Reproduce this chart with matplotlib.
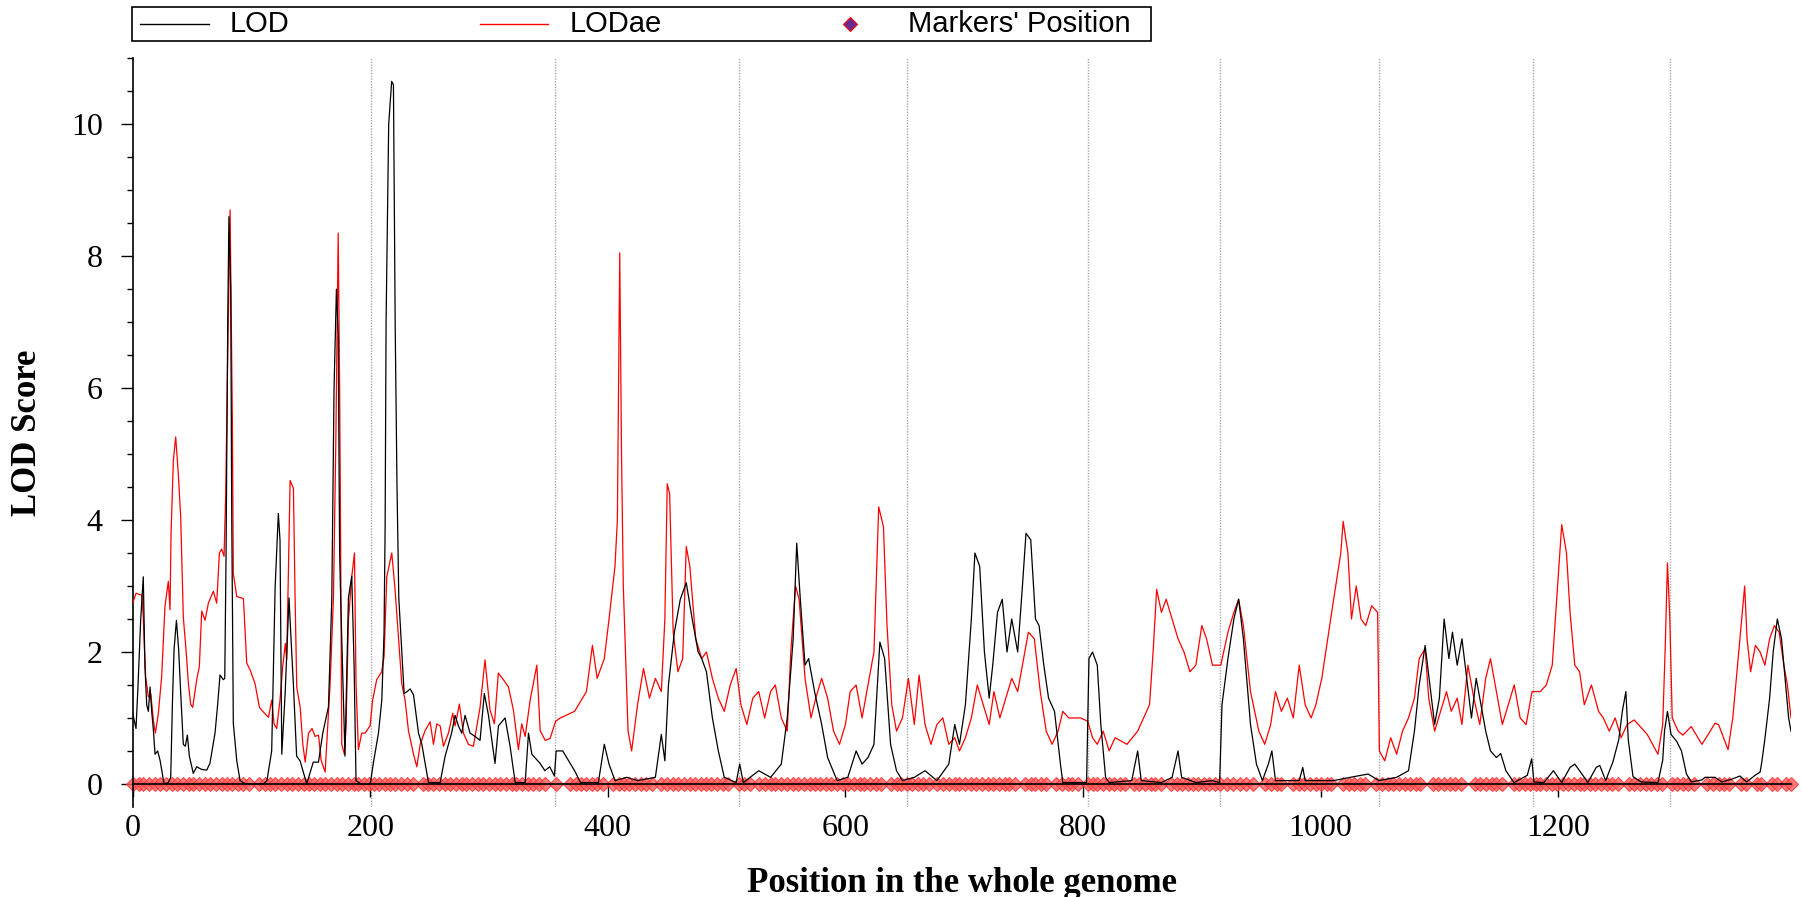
import numpy as np
import matplotlib
matplotlib.use('Agg')
import matplotlib.pyplot as plt
from matplotlib.patches import Rectangle

# LOD curve (black) : position (cM) and score
lod_pos = [0, 2.8, 4.5, 6.7, 8.9, 10.3, 11.8, 13.2, 14.6, 16, 17.4, 18.8, 21, 23, 26.4, 30, 32, 33.5, 34.8, 36.8,
           38.7, 40.7, 42.6, 44.3, 46, 47.7, 51, 53.9, 58, 62.3, 65, 69.3, 71.5, 73.5, 76.3, 77.5, 78.6, 80, 81, 82.5,
           83.4, 84.7, 87.6, 90.4, 94.7, 110, 113, 117, 119.9, 122.6, 124, 125.5, 128.3, 131.6, 133, 135.3, 138, 140.9,
           146.5, 152, 156.4, 160, 164.8, 167.6, 169.5, 171.5, 173, 174.2, 175.2, 178.7, 181.6, 184.4, 186.4, 188, 192,
           200, 202.7, 206.9, 209.7, 211.6, 212.5, 213.3, 215.5, 218, 219.5, 221, 222.5, 224, 226.5, 228.5, 231, 233.6,
           236.4, 240.6, 243.4, 249, 258.8, 263, 268.6, 271.4, 274.2, 277, 279.8, 284, 288.2, 292.4, 296, 299.5, 305,
           307.9, 313.5, 317.7, 322, 330.4, 333.2, 336, 343, 347, 351, 355, 356.5,
           362, 372, 377, 392, 397, 401, 406, 416, 425, 440, 445, 448, 451, 456, 461, 466, 471, 476, 479, 483, 488, 493,
           498, 508, 511, 514, 527, 537, 546, 551, 556, 559, 562, 566, 569, 574, 580, 585, 593, 602, 609, 614, 619, 624,
           629, 633, 638, 643, 648, 658, 667, 677, 687, 692, 696, 701, 706, 709, 713, 717, 721, 724, 728, 732, 736, 740,
           745, 749, 752, 756, 760, 763, 767, 771, 776, 781, 783, 803, 805, 808, 812, 815, 819, 822, 841, 846, 849, 866,
           875, 880, 883, 895, 909, 915, 917, 922, 927, 931, 935, 941, 946, 951, 956, 959, 962, 982, 985, 987, 1011, 1025,
           1040, 1049, 1064, 1074, 1079, 1083, 1088, 1092, 1096, 1100, 1104, 1108, 1111, 1115, 1119, 1123, 1127, 1131,
           1135, 1139, 1143, 1148, 1151.6, 1156, 1162.8, 1174, 1177.7, 1179.6, 1188, 1196, 1203, 1210, 1214, 1220, 1225,
           1232, 1235, 1240, 1246, 1251, 1254, 1257, 1259, 1263, 1270, 1284, 1288, 1289.5, 1292, 1295, 1299.6, 1303.8,
           1308, 1312, 1321, 1323.6, 1332, 1337.6, 1346, 1353, 1358.7, 1365.7, 1370, 1371.4, 1374, 1378, 1381, 1384.5,
           1388, 1391, 1394, 1396]
lod_val = [1.07, 0.84, 1.5, 2.48, 3.14, 1.78, 1.2, 1.1, 1.47, 1.1, 0.82, 0.45, 0.5, 0.36, 0, 0.02, 0.1, 1.27, 2.03, 2.48,
           2.03, 1.27, 0.6, 0.57, 0.74, 0.42, 0.16, 0.26, 0.22, 0.21, 0.31, 0.77, 1.2, 1.65, 1.58, 1.6, 3.5, 7.0, 8.6, 7.5,
           4.0, 0.92, 0.35, 0.05, 0, 0, 0.05, 0.5, 2.98, 4.1, 3.7, 0.45, 1.36, 2.82, 2.3, 1.5, 0.42, 0.35,
           0, 0.33, 0.33, 0.77, 1.17, 2.8, 6.0, 7.5, 6.8, 3.5, 2.72, 0.42, 2.82, 3.15, 1.78, 0.05, 0,
           0, 0.33, 0.77, 1.27, 2.3, 3.9, 7.0, 10.0, 10.65, 10.6, 6.9, 4.5, 2.82, 2.0, 1.37, 1.4, 1.44,
           1.35, 0.77, 0.6, 0.02, 0.02, 0.42, 0.78, 1.04, 0.88, 0.77, 1.04, 0.77, 0.72, 0.66, 1.37, 1.04, 0.31,
           0.88, 1.0, 0.57, 0.02, 0.02, 0.77, 0.45, 0.31, 0.2, 0.26, 0.12, 0.5,
           0.5, 0.2, 0.02, 0.02, 0.6, 0.3, 0.05, 0.1, 0.05, 0.1, 0.75, 0.35, 1.5, 2.3, 2.8, 3.05, 2.5, 2.0, 1.9, 1.7, 1.0, 0.5,
           0.1, 0.02, 0.3, 0.02, 0.2, 0.1, 0.3, 1.0, 2.2, 3.65, 2.8, 1.8, 1.9, 1.4, 0.9, 0.4, 0.05, 0.1, 0.5, 0.3, 0.4, 0.6,
           2.15, 1.9, 0.6, 0.2, 0.05, 0.1, 0.2, 0.05, 0.3, 0.9, 0.6, 1.2, 2.5, 3.5, 3.3, 2.0, 1.3, 1.8, 2.6, 2.8, 2.0, 2.5,
           2.0, 3.0, 3.8, 3.7, 2.5, 2.4, 1.8, 1.3, 1.1, 0.3, 0.02, 0.02, 1.9, 2.0, 1.8, 0.9, 0.1, 0.02, 0.05, 0.5, 0.05, 0.02,
           0.1, 0.5, 0.1, 0.02, 0.05, 0.02, 1.2, 1.9, 2.5, 2.8, 2.2, 0.9, 0.3, 0.05, 0.3, 0.5, 0.05, 0.05, 0.25, 0.05, 0.05, 0.1,
           0.15, 0.05, 0.1, 0.2, 0.8, 1.5, 2.1, 1.5, 0.9, 1.3, 2.5, 1.9, 2.3, 1.8, 2.2, 1.6, 1.0, 1.6,
           1.2, 0.8, 0.5, 0.4, 0.46, 0.2, 0.02, 0.13, 0.38, 0.03, 0.02, 0.2, 0.02, 0.25, 0.3, 0.15, 0.02,
           0.25, 0.28, 0.05, 0.33, 0.67, 1.1, 1.4, 0.67, 0.11, 0.03, 0.02, 0.36, 0.8, 1.1, 0.75, 0.65, 0.5,
           0.15, 0.03, 0.06, 0.1, 0.1, 0.03, 0.07, 0.12, 0.03, 0.13, 0.18, 0.33, 0.68, 1.3, 2.0, 2.5,
           2.2, 1.6, 1.0, 0.8]

# LODae curve (red)
ae_pos = [0, 2.8, 7.6, 8.9, 9.8, 10.9, 13.2, 15.2, 17.4, 19.1, 21.6, 24.4, 27.2, 30, 31.4, 32.3, 34.2, 36.2, 38.4, 40.4,
          42.6, 44.9, 46.9, 48.8, 50.5, 53.9, 56.1, 58.1, 60.9, 63.7, 67.9, 70.7, 73, 74.9, 76.9, 78.3, 80, 82, 83, 83.9,
          84.7, 87.6, 93.2, 96, 98.8, 103, 106.7, 110, 114.3, 117, 119, 121.2, 124, 126.3, 128.5, 129.6, 131, 132.5, 135.3,
          136.7, 138.1, 141, 143.2, 145.2, 148, 151, 153.5, 156.4, 158.6, 162, 166.2, 169, 171, 173, 174.2, 175, 176, 178.2,
          179.6, 181.6, 184.4, 186.7, 188, 190, 192.8, 195.6, 199.8, 202, 205.4, 209.6, 211.6, 213.9, 218.1, 220.9, 223.7,
          226.5, 229.3, 232.1, 236.4, 239.2, 242, 246.2, 250.4, 253.2, 256, 258.8, 261.6, 265.8, 269.4, 271.4, 275, 278.4,
          282.6, 286.8, 292.4, 296.6, 300.8, 304.5, 307.8, 312.1, 316.3, 320.5, 324.7, 327.5, 330.4, 334.6, 340.2, 343,
          347.2, 351.4, 356,
          360, 372, 382, 387, 391, 397, 401, 406, 408, 410, 411.5, 413, 417, 420, 425, 430, 435, 440, 445, 448, 450, 452,
          455, 459, 463, 466, 469, 474, 479, 483, 488, 493, 498, 503, 508, 512, 517, 522, 527, 532, 537, 541, 546, 551,
          554, 558, 561, 566, 571, 575, 580, 585, 590, 595, 600, 604, 609, 614, 619, 624, 628, 632, 635, 639, 643, 648,
          653, 658, 662, 667, 672, 677, 682, 687, 692, 696, 701, 706, 711, 716, 721, 725, 730, 735, 740, 745, 750, 754,
          759, 764, 769, 774, 779, 783, 788, 798, 804, 808, 812, 817, 822, 827, 837, 846, 856, 859, 862, 866, 870, 875,
          880, 885, 890, 895, 900, 904, 909, 914, 916, 922, 927, 931, 935, 941, 948, 953, 958, 962, 967, 972, 977, 982,
          987, 992, 996, 1001, 1006, 1011, 1017, 1019, 1023, 1026, 1030, 1034, 1038, 1043, 1048, 1049.5, 1054, 1059, 1064,
          1069, 1074, 1079, 1083, 1088, 1091, 1096, 1101, 1106, 1110, 1115, 1119, 1124, 1129, 1134, 1139, 1143, 1148,
          1153, 1158, 1163, 1168, 1173, 1178, 1185, 1190, 1195, 1198, 1203, 1207, 1210, 1214, 1218, 1222, 1228, 1234,
          1238, 1243, 1248, 1253, 1258, 1264, 1275, 1284, 1288, 1290, 1292, 1294, 1296, 1301, 1305, 1312, 1321, 1327,
          1332, 1335, 1343, 1347, 1352, 1357, 1359, 1362, 1366, 1370, 1374, 1378, 1382, 1386, 1390, 1393, 1396]
ae_val = [2.74, 2.89, 2.86, 2.53, 2.08, 1.63, 1.32, 1.37, 0.97, 0.77, 1.07, 1.63, 2.7, 3.07, 2.64, 3.8, 4.9, 5.26, 4.7, 4.05,
          2.53, 2.03, 1.52, 1.21, 1.16, 1.58, 1.78, 2.62, 2.48, 2.74, 2.92, 2.74, 3.5, 3.56, 3.45, 4.4, 6.5, 8.7, 7.0, 5.5,
          3.19, 2.84, 2.81, 1.83, 1.73, 1.52, 1.16, 1.09, 1.01, 1.27, 0.91, 0.84, 1.27, 1.78, 2.13, 1.88, 3.14, 4.6, 4.48,
          2.82, 1.47, 1.16, 0.6, 0.33, 0.77, 0.84, 0.72, 0.74, 0.36, 0.18, 1.52, 2.82, 5.2, 8.35, 6.0, 3.8, 0.6, 0.45,
          0.88, 2.48, 3.14, 3.5, 1.52, 0.52, 0.77, 0.77, 0.88, 1.27, 1.58, 1.7, 1.93, 3.14, 3.5, 2.94, 2.23,
          1.52, 1.27, 0.81, 0.45, 0.26, 0.6, 0.81, 0.94, 0.6, 0.91, 0.88, 0.57, 0.77, 1.07, 0.88, 1.21, 0.77,
          0.6, 0.57, 1.16, 1.88, 1.12, 0.91, 1.68, 1.58, 1.47, 1.12, 0.52, 0.91, 0.72, 1.27, 1.8, 0.81,
          0.66, 0.69, 0.95,
          1.0, 1.1, 1.4, 2.1, 1.6, 1.9, 2.5, 3.3, 4.0, 8.05, 5.0, 3.0, 0.8, 0.5, 1.2, 1.75, 1.3, 1.6, 1.4, 2.5, 4.55, 4.4,
          2.3, 1.7, 1.9, 3.6, 3.3, 2.2, 1.9, 2.0, 1.6, 1.3, 1.1, 1.5, 1.75, 1.2, 0.9, 1.3, 1.4, 1.0, 1.4, 1.5, 1.0, 0.8,
          2.0, 3.0, 2.8, 1.6, 1.0, 1.3, 1.6, 1.3, 0.8, 0.6, 0.9, 1.4, 1.5, 1.0, 1.5, 2.0, 4.2, 3.9, 2.4, 1.2, 0.8, 1.0,
          1.6, 0.9, 1.65, 0.9, 0.6, 0.9, 1.0, 0.6, 0.7, 0.5, 0.7, 1.0, 1.5, 1.2, 0.9, 1.4, 1.0, 1.3, 1.6, 1.4, 1.9, 2.3,
          2.2, 1.4, 0.8, 0.6, 0.8, 1.1, 1.0, 1.0, 0.95, 0.7, 0.6, 0.8, 0.5, 0.7, 0.6, 0.8, 1.2, 2.0, 2.95, 2.6, 2.8, 2.5,
          2.2, 2.0, 1.7, 1.8, 2.4, 2.2, 1.8, 1.8, 1.8, 2.3, 2.6, 2.8, 2.4, 1.4, 0.8, 0.6, 0.9, 1.4, 1.1, 1.3, 1.0, 1.8,
          1.2, 1.0, 1.2, 1.6, 2.2, 2.8, 3.5, 3.98, 3.5, 2.5, 3.0, 2.5, 2.4, 2.7, 2.6, 0.5, 0.35, 0.7, 0.45,
          0.8, 1.0, 1.3, 1.9, 2.05, 1.3, 0.8, 1.1, 1.4, 1.1, 1.3, 0.9, 1.8, 1.3, 0.9, 1.6, 1.9, 1.4,
          0.9, 1.2, 1.5, 1.0, 0.9, 1.4, 1.4, 1.5, 1.8, 2.6, 3.93, 3.5, 2.6, 1.8, 1.7, 1.2, 1.5, 1.1,
          1.0, 0.8, 1.0, 0.7, 0.9, 0.97, 0.75, 0.45, 0.9, 2.0, 3.35, 2.5, 1.0, 0.8, 0.74, 0.87, 0.6, 0.77,
          0.92, 0.9, 0.52, 1.0, 2.0, 3.0, 2.2, 1.7, 2.1, 2.0, 1.8, 2.2, 2.4, 2.3, 1.8, 1.5, 1.0]

# marker positions along the genome (cM)
marker_pos = [0, 5, 9, 14, 19, 23, 28, 33, 37, 42, 47, 51, 56, 61, 65, 70, 75, 79, 84, 89, 93, 98, 106, 111, 116, 120,
              125, 130, 134, 139, 144, 148, 153, 158, 162, 167, 172, 176, 181, 186, 190, 195, 199,
              203, 207, 212, 217, 221, 226, 231, 236, 244, 249, 253, 258, 263, 267, 272, 277, 281, 286, 291, 295, 300,
              305, 309, 314, 319, 323, 328, 333, 337, 342, 347, 356,
              368, 373, 377, 382, 387, 391, 396, 404, 409, 414, 418, 423, 428, 432, 437, 445, 450, 455, 459, 464, 469,
              473, 478, 483, 487, 492, 497, 501, 510,
              515, 520, 527, 532, 537, 541, 546, 551, 556, 560, 565, 570, 574, 579, 584, 588, 593, 598, 602, 607, 612,
              616, 621, 626, 630, 638, 643, 647, 652,
              656, 661, 665, 670, 677, 682, 687, 692, 696, 701, 706, 710, 715, 720, 724, 729, 734, 738, 743, 751, 756,
              760, 765, 769, 777, 782, 787, 791, 796, 804,
              808, 812, 817, 822, 826, 831, 835, 843, 847, 852, 857, 861, 866, 874, 879, 883, 888, 893, 897, 902, 906,
              911, 915,
              921, 926, 932, 937, 943, 953, 958, 963, 967, 977, 982, 986, 991, 996, 1000, 1005, 1009, 1019, 1024, 1028,
              1033, 1037, 1047,
              1052, 1057, 1061, 1066, 1071, 1075, 1080, 1084, 1095, 1099, 1104, 1109, 1113, 1118, 1130, 1134, 1139,
              1144, 1148, 1153, 1163, 1167, 1172, 1176,
              1181, 1185, 1190, 1195, 1199, 1204, 1208, 1213, 1218, 1222, 1227, 1231, 1236, 1241, 1245, 1250, 1260,
              1264, 1269, 1274, 1278, 1283, 1287, 1296,
              1300, 1305, 1309, 1314, 1325, 1330, 1335, 1340, 1344, 1354, 1358, 1367, 1371, 1380, 1384, 1392, 1396]

# chromosome boundaries (dotted lines)
chrom_bounds = [200.5, 355.6, 510.6, 651.8, 804, 915, 1049, 1178.6, 1294]

x_ticks = [0, 200, 400, 600, 800, 1000, 1200]
y_ticks = [0, 2, 4, 6, 8, 10]
legend_labels = ['LOD', 'LODae', "Markers' Position"]

serif = ['Liberation Serif', 'DejaVu Serif']
sans = ['Liberation Sans', 'DejaVu Sans']

W, H = 1802, 897
fig = plt.figure(figsize=(W / 100, H / 100), dpi=100)
# axes box in pixel coords: left 132.7, right 1791, top 58.3, bottom 807
ax = fig.add_axes([132.7 / W, 1 - 807 / H, (1791 - 132.7) / W, (807 - 58.3) / H])

ax.set_xlim(0, 1396)
ax.set_ylim(-0.35, 11)

for b in chrom_bounds:
    ax.axvline(b, color='#a8a8a8', lw=1.0, ls=(0, (1, 1)), zorder=1)

ax.plot(marker_pos, np.zeros(len(marker_pos)), ls='none', marker='D', ms=7.4,
        mfc='#ff5c5c', mec='#ff3030', mew=0.8, alpha=0.8, zorder=2, clip_on=False)
ax.plot(lod_pos, lod_val, color='black', lw=0.9, zorder=4)
ax.plot(ae_pos, ae_val, color='red', lw=0.9, zorder=3)

# axes styling
ax.spines['top'].set_visible(False)
ax.spines['right'].set_visible(False)
ax.spines['bottom'].set_position(('data', 0))
ax.spines['bottom'].set_zorder(5)
ax.spines['left'].set_linewidth(1.2)
ax.spines['bottom'].set_linewidth(1.2)

ax.set_xticks(x_ticks)
ax.set_yticks(y_ticks)
ax.set_yticks(np.arange(0, 11.01, 0.5), minor=True)
ax.tick_params(axis='x', direction='out', length=9.4, width=1.0, pad=12, labelsize=23)
ax.tick_params(axis='y', which='major', direction='out', length=8.6, width=1.0, pad=13, labelsize=23)
ax.tick_params(axis='y', which='minor', direction='out', length=4.3, width=1.0)
for lab in ax.get_xticklabels() + ax.get_yticklabels():
    lab.set_family(serif)

fig.text(27 / W, 1 - 433 / H, 'LOD Score', rotation=90, ha='center', va='center',
         fontsize=25, fontweight='bold', family=serif)
fig.text(962 / W, 1 - 892 / H, 'Position in the whole genome', ha='center', va='baseline',
         fontsize=25, fontweight='bold', family=serif)

# legend drawn by hand in pixel coords on an overlay axes
lax = fig.add_axes([0, 0, 1, 1])
lax.set_xlim(0, W)
lax.set_ylim(H, 0)
lax.axis('off')
lax.add_patch(Rectangle((132, 7), 1151 - 132, 34, fill=False, ec='black', lw=1.2))
ly = 24
lax.plot([140, 209], [ly, ly], color='black', lw=1.0)
lax.text(230, ly, legend_labels[0], va='center', ha='left', fontsize=21, family=sans)
lax.plot([480, 548], [ly, ly], color='red', lw=1.0)
lax.text(570, ly, legend_labels[1], va='center', ha='left', fontsize=21, family=sans)
lax.plot([850], [ly], ls='none', marker='D', ms=7, mfc='#6a2c91', mec='red', mew=0.8)
lax.text(908, ly, legend_labels[2], va='center', ha='left', fontsize=21, family=sans)

fig.savefig('out.png', dpi=100)
